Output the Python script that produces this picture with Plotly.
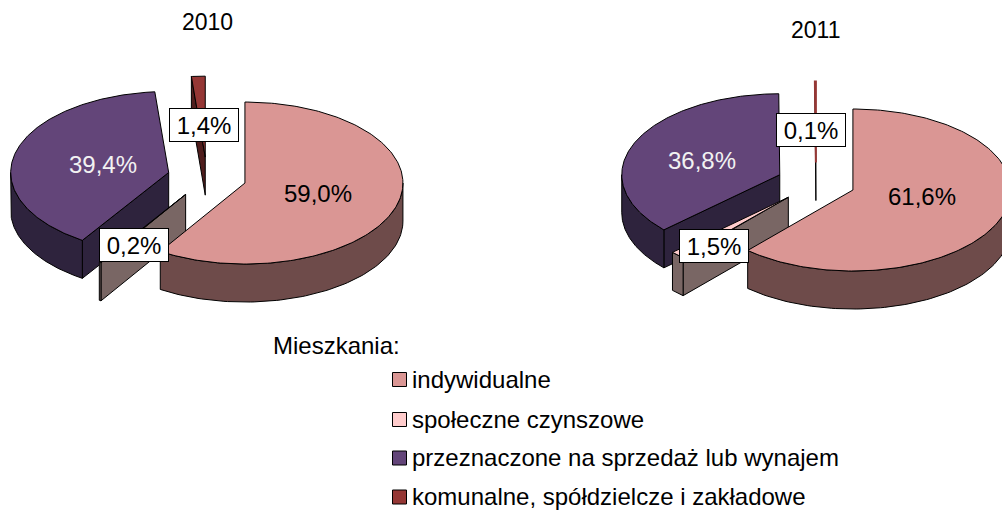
import numpy as np
import plotly.graph_objects as go

categories = ["indywidualne", "społeczne czynszowe", "przeznaczone na sprzedaż lub wynajem", "komunalne, spółdzielcze i zakładowe"]
years = ["2010", "2011"]
values_2010 = [59.0, 0.2, 39.4, 1.4]
values_2011 = [61.6, 1.5, 36.8, 0.1]
labels_2010 = ["59,0%", "0,2%", "39,4%", "1,4%"]
labels_2011 = ["61,6%", "1,5%", "36,8%", "0,1%"]

top_colors = ["#DA9694", "#FFCCCC", "#634579", "#953735"]
wall_colors = ["#6E4B4A", "#796664", "#2E233D", "#4F1D1C"]
text_colors = ["#000000", "#000000", "#F2F2F2", "#000000"]
FONT = "Liberation Sans, Arial, sans-serif"
FS = 24

RX, RY, DEPTH, EXPLODE = 158, 81, 38, 0.25
pies = [
    dict(year="2010", vals=values_2010, labs=labels_2010, cx=207, cy=177.4, title=(207, 22),
         lab_xy=[(318, 193.5), (133.5, 244.5), (103, 164.5), (204, 125)]),
    dict(year="2011", vals=values_2011, labs=labels_2011, cx=816, cy=182.8, title=(815, 30),
         lab_xy=[(922, 196.5), (714, 246), (702, 160.5), (811, 130)]),
]
BOXED = {1, 3}
DRAW_ORDER = [3, 2, 1, 0]

fig = go.Figure()


def poly(xs, ys, fill, outline="#000000", lw=1):
    fig.add_trace(go.Scatter(
        x=list(xs) + [xs[0]], y=list(ys) + [ys[0]], mode="lines", fill="toself",
        fillcolor=fill, line=dict(color=outline, width=lw), hoverinfo="skip", showlegend=False))


def ell(c, t):
    return c[0] + RX * np.sin(t), c[1] - RY * np.cos(t)


annotations = []
for p in pies:
    total = sum(p["vals"])
    edges = np.concatenate([[0], np.cumsum(p["vals"])]) / total * 2 * np.pi
    for i in DRAW_ORDER:
        a0, a1 = edges[i], edges[i + 1]
        mid = (a0 + a1) / 2
        c = ell((p["cx"], p["cy"]), mid)
        c = (p["cx"] + EXPLODE * (c[0] - p["cx"]), p["cy"] + EXPLODE * (c[1] - p["cy"]))
        # cut face at the start angle
        if np.sin(a0) < -1e-6:
            ex, ey = ell(c, a0)
            poly([c[0], ex, ex, c[0]], [c[1], ey, ey + DEPTH, c[1] + DEPTH], wall_colors[i])
        # rounded outer wall
        lo, hi = max(a0, np.pi / 2), min(a1, 3 * np.pi / 2)
        if hi > lo:
            t = np.linspace(lo, hi, 90)
            ex, ey = ell(c, t)
            poly(list(ex) + list(ex[::-1]), list(ey) + list(ey[::-1] + DEPTH), wall_colors[i])
        # top face (a sliver too thin to show its fill keeps its own colour as outline)
        t = np.linspace(a0, a1, 200)
        ex, ey = ell(c, t)
        if (a1 - a0) < 0.01 and i == 3:
            poly([c[0]] + list(ex), [c[1]] + list(ey), top_colors[i], top_colors[i], 2)
        else:
            poly([c[0]] + list(ex), [c[1]] + list(ey), top_colors[i])
    annotations.append(dict(x=p["title"][0], y=p["title"][1], text=p["year"], showarrow=False,
                            font=dict(family=FONT, size=FS - 1, color="#000000")))
    for i, (lab, (lx, ly)) in enumerate(zip(p["labs"], p["lab_xy"])):
        a = dict(x=lx, y=ly, text=lab, showarrow=False,
                 font=dict(family=FONT, size=FS, color=text_colors[i]))
        if i in BOXED:
            a.update(bgcolor="#FFFFFF", bordercolor="#000000", borderwidth=1, borderpad=0, width=68, height=32)
        annotations.append(a)

annotations.append(dict(x=271, y=345, text="Mieszkania:", showarrow=False, xanchor="left",
                        font=dict(family=FONT, size=FS, color="#000000")))
legend_y = [379.5, 419.5, 458, 497]
fig.add_trace(go.Scatter(
    x=[399.5] * 4, y=legend_y, mode="markers", hoverinfo="skip", showlegend=False,
    marker=dict(symbol="square", size=14, color=top_colors, line=dict(color="#000000", width=1))))
for name, y in zip(categories, legend_y):
    annotations.append(dict(x=410, y=y - 0.5, text=name, showarrow=False, xanchor="left",
                            font=dict(family=FONT, size=FS, color="#000000")))

fig.update_layout(
    width=1002, height=510, margin=dict(l=0, r=0, t=0, b=0), autosize=False,
    paper_bgcolor="#FFFFFF", plot_bgcolor="#FFFFFF", annotations=annotations,
    xaxis=dict(range=[0, 1002], visible=False, fixedrange=True),
    yaxis=dict(range=[510, 0], visible=False, fixedrange=True),
)
fig.write_html("out.html", config={"displayModeBar": False},
               post_script="document.body.style.margin='0';document.documentElement.style.overflow='hidden';")
